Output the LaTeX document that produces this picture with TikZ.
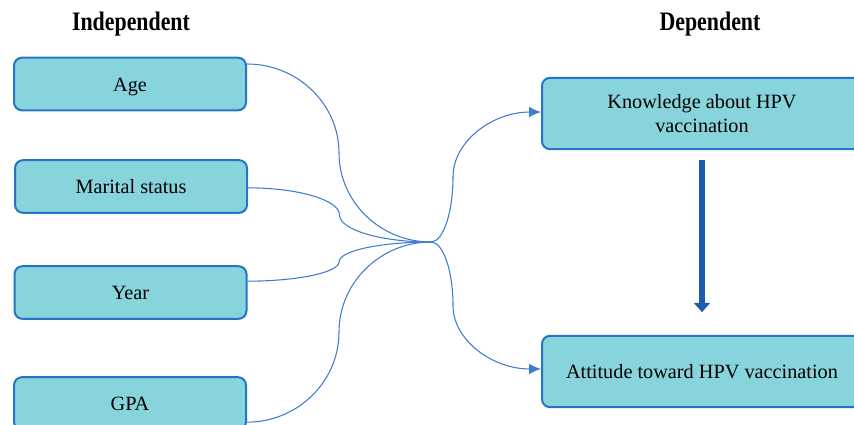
\documentclass[tikz,border=0pt]{standalone}
\usepackage{fontspec}
\setmainfont{Liberation Serif}
\usetikzlibrary{positioning,arrows.meta,calc}
\definecolor{boxfill}{RGB}{136,212,221}
\definecolor{boxline}{RGB}{38,115,200}
\definecolor{linkblue}{RGB}{62,124,208}
\definecolor{arrowblue}{RGB}{28,92,176}
\tikzset{
  boxbase/.style={rectangle, rounded corners=6pt, draw=boxline, fill=boxfill,
                  line width=1.5pt, inner sep=2pt, align=center,
                  font=\fontsize{15.2}{18}\selectfont},
  varbox/.style={boxbase, minimum width=174pt, minimum height=39.5pt,
                 text height=10.5pt, text depth=0pt},
  outbox/.style={boxbase, minimum width=240pt, minimum height=53.5pt},
  headlab/.style={font=\fontsize{20}{24}\selectfont\bfseries},
  link/.style={draw=linkblue, line width=0.8pt},
  linkarr/.style={link, -{Latex[length=9pt,width=8pt]}},
  bigarr/.style={draw=arrowblue, line width=3.8pt, -{Triangle[width=12pt,length=7pt]}},
  sbend/.style={to path={
    let \p1=(\tikztostart), \p2=(\tikztotarget),
        \p3=({\x1+#1*(\x2-\x1)},{(\y1+\y2)/2})
    in .. controls ($(\p1)!0.55!(\x3,\y1)$) and ($(\p3)!0.55!(\x3,\y1)$) .. (\p3)
       .. controls ($(\p3)!0.55!(\x3,\y2)$) and ($(\p2)!0.55!(\x3,\y2)$) .. (\p2)}},
  sbend/.default=0.5,
}

\begin{document}
\begin{tikzpicture}[x=0.75pt, y=-0.75pt]
  \useasboundingbox (0,0) rectangle (854,425);
  \node[headlab] (indep) at (131,24) {\scalebox{0.82}[1]{Independent}};
  \node[headlab] (dep) at (710,24) {\scalebox{0.82}[1]{Dependent}};
  \node[varbox] (age) at (130,84) {Age};
  \node[varbox] (mar) at (131,186.5) {Marital status};
  \node[varbox] (year) at (130.5,292.5) {Year};
  \node[varbox] (gpa) at (130,403.5) {GPA};
  \node[outbox] (know) at (702,113.5) {Knowledge about HPV\\vaccination};
  \node[outbox] (att) at (702,371.5) {Attitude toward HPV vaccination};
  \coordinate (hub) at (431,242);
  \draw[link] ([yshift=15pt]age.east) to[sbend] (hub);
  \draw[link] ([yshift=-1pt]mar.east) to[sbend] (hub);
  \draw[link] ([yshift=8.5pt]year.east) to[sbend] (hub);
  \draw[link] ([yshift=-14pt]gpa.east) to[sbend] (hub);
  \draw[linkarr] (hub) to[sbend=0.2] ([yshift=1.1pt]know.west);
  \draw[linkarr] (hub) to[sbend=0.2] ([yshift=1.9pt]att.west);
  \draw[bigarr, shorten <=7.5pt, shorten >=17pt] (know.south) -- (att.north);
\end{tikzpicture}
\end{document}
